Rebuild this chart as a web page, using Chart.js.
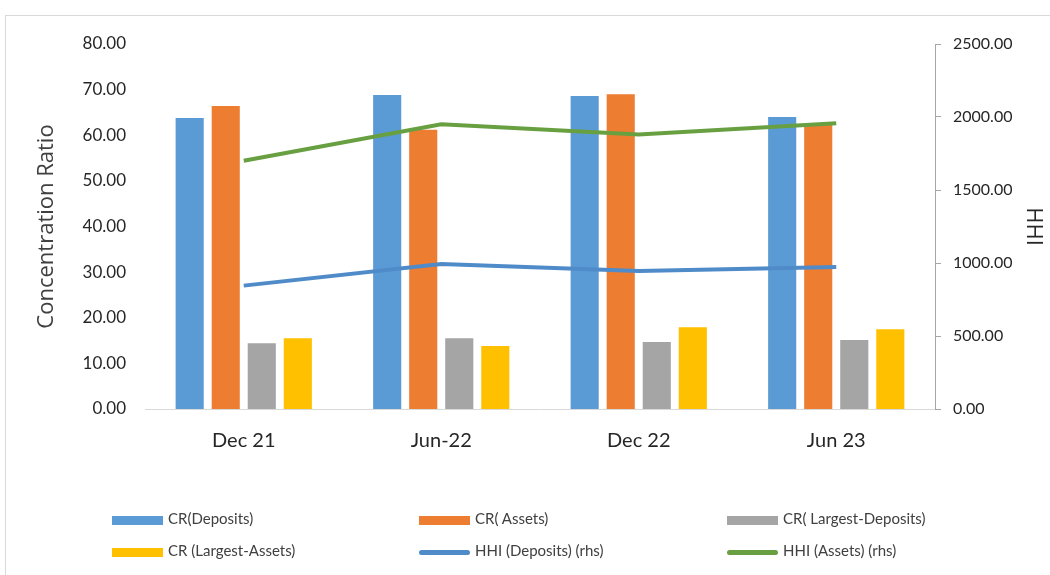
<!DOCTYPE html>
<html>
<head>
<meta charset="utf-8">
<script src="https://cdn.jsdelivr.net/npm/chart.js"></script>
<style>
  body { margin: 0; background: #fff; font-family: Lato, "Open Sans", sans-serif; }
  #frame { position: absolute; left: 5px; top: 15px; width: 1100px; height: 600px; border: 1px solid #d9d9d9; }
  #wrap { position: absolute; left: 0; top: 0; width: 1050px; height: 575px; }
  .lg { position: absolute; font-size: 15px; color: #404040; white-space: nowrap; }
  .lg span { display: inline-block; vertical-align: middle; margin-right: 5px; }
</style>
</head>
<body>
<div id="frame"></div>
<div id="wrap"><canvas id="chart" width="1050" height="575"></canvas></div>
<div id="legend"></div>
<script>
var categories = ["Dec 21", "Jun-22", "Dec 22", "Jun 23"];
var crDeposits = [63.8, 68.8, 68.6, 64.0];
var crAssets = [66.4, 61.2, 69.0, 62.7];
var crLargestDeposits = [14.4, 15.5, 14.7, 15.1];
var crLargestAssets = [15.5, 13.8, 17.9, 17.5];
var hhiDeposits = [845, 993, 945, 973];
var hhiAssets = [1700, 1950, 1880, 1957];

var ctx = document.getElementById("chart");
var chart = new Chart(ctx, {
    type: 'bar',
    data: {
        labels: categories,
        datasets: [{
            label: "CR(Deposits)",
            backgroundColor: "#5B9BD5",
            data: crDeposits,
            order: 1
        }, {
            label: "CR( Assets)",
            backgroundColor: "#ED7D31",
            data: crAssets,
            order: 1
        }, {
            label: "CR( Largest-Deposits)",
            backgroundColor: "#A5A5A5",
            data: crLargestDeposits,
            order: 1
        }, {
            label: "CR (Largest-Assets)",
            backgroundColor: "#FFC000",
            data: crLargestAssets,
            order: 1
        }, {
            type: 'line',
            label: "HHI (Deposits) (rhs)",
            borderColor: "#4f8bc8",
            backgroundColor: "#4f8bc8",
            borderWidth: 4,
            pointRadius: 0,
            data: hhiDeposits,
            yAxisID: 'y1',
            order: 0
        }, {
            type: 'line',
            label: "HHI (Assets) (rhs)",
            borderColor: "#68a041",
            backgroundColor: "#68a041",
            borderWidth: 4,
            pointRadius: 0,
            data: hhiAssets,
            yAxisID: 'y1',
            order: 0
        }]
    },
    options: {
        responsive: false,
        animation: false,
        categoryPercentage: 0.73,
        barPercentage: 0.78,
        layout: { padding: { left: 30, right: 0, top: 44, bottom: 0 } },
        plugins: {
            legend: { display: false },
            tooltip: { enabled: false }
        },
        scales: {
            x: {
                grid: { display: false },
                border: { display: true, color: "#d9d9d9", width: 1 },
                ticks: { color: "#262626", font: { family: "Lato", size: 20 }, padding: 12 },
                afterFit: function (scale) { scale.height = 166; }
            },
            y: {
                position: 'left',
                min: 0,
                max: 80,
                grid: { display: false },
                border: { display: false },
                ticks: {
                    stepSize: 10,
                    color: "#262626",
                    font: { family: "Lato", size: 17 },
                    padding: 11,
                    callback: function (v) { return v.toFixed(2); }
                },
                title: {
                    display: true,
                    text: "Concentration Ratio",
                    color: "#404040",
                    font: { family: "Open Sans", size: 22 }
                },
                afterFit: function (scale) { scale.width = 115; }
            },
            y1: {
                position: 'right',
                min: 0,
                max: 2500,
                grid: { display: true, drawOnChartArea: false, drawTicks: true, tickLength: 6, color: "#a6a6a6" },
                border: { display: true, color: "#a6a6a6" },
                ticks: {
                    stepSize: 500,
                    color: "#262626",
                    font: { family: "Lato", size: 16 },
                    padding: 12,
                    callback: function (v) { return v.toFixed(2); }
                },
                title: {
                    display: true,
                    text: "HHI",
                    color: "#262626",
                    font: { family: "Open Sans", size: 22 },
                    padding: { top: 4, bottom: 0 }
                },
                afterFit: function (scale) { scale.width = 115; }
            }
        }
    }
});

// html legend in three fixed columns like the original
var legendPos = [[112, 518], [419, 518], [727, 518], [112, 550], [419, 550], [727, 550]];
var legendHtml = "";
chart.data.datasets.forEach(function (ds, i) {
    var isLine = ds.type === 'line';
    var sw = isLine
        ? '<span style="width:51px;height:5px;border-radius:3px;background:' + ds.borderColor + '"></span>'
        : '<span style="width:51px;height:9px;background:' + ds.backgroundColor + '"></span>';
    legendHtml += '<div class="lg" style="left:' + legendPos[i][0] + 'px;top:' + (legendPos[i][1] - 10) + 'px;line-height:20px">' + sw + ds.label + '</div>';
});
document.getElementById("legend").innerHTML = legendHtml;
</script>
</body>
</html>
